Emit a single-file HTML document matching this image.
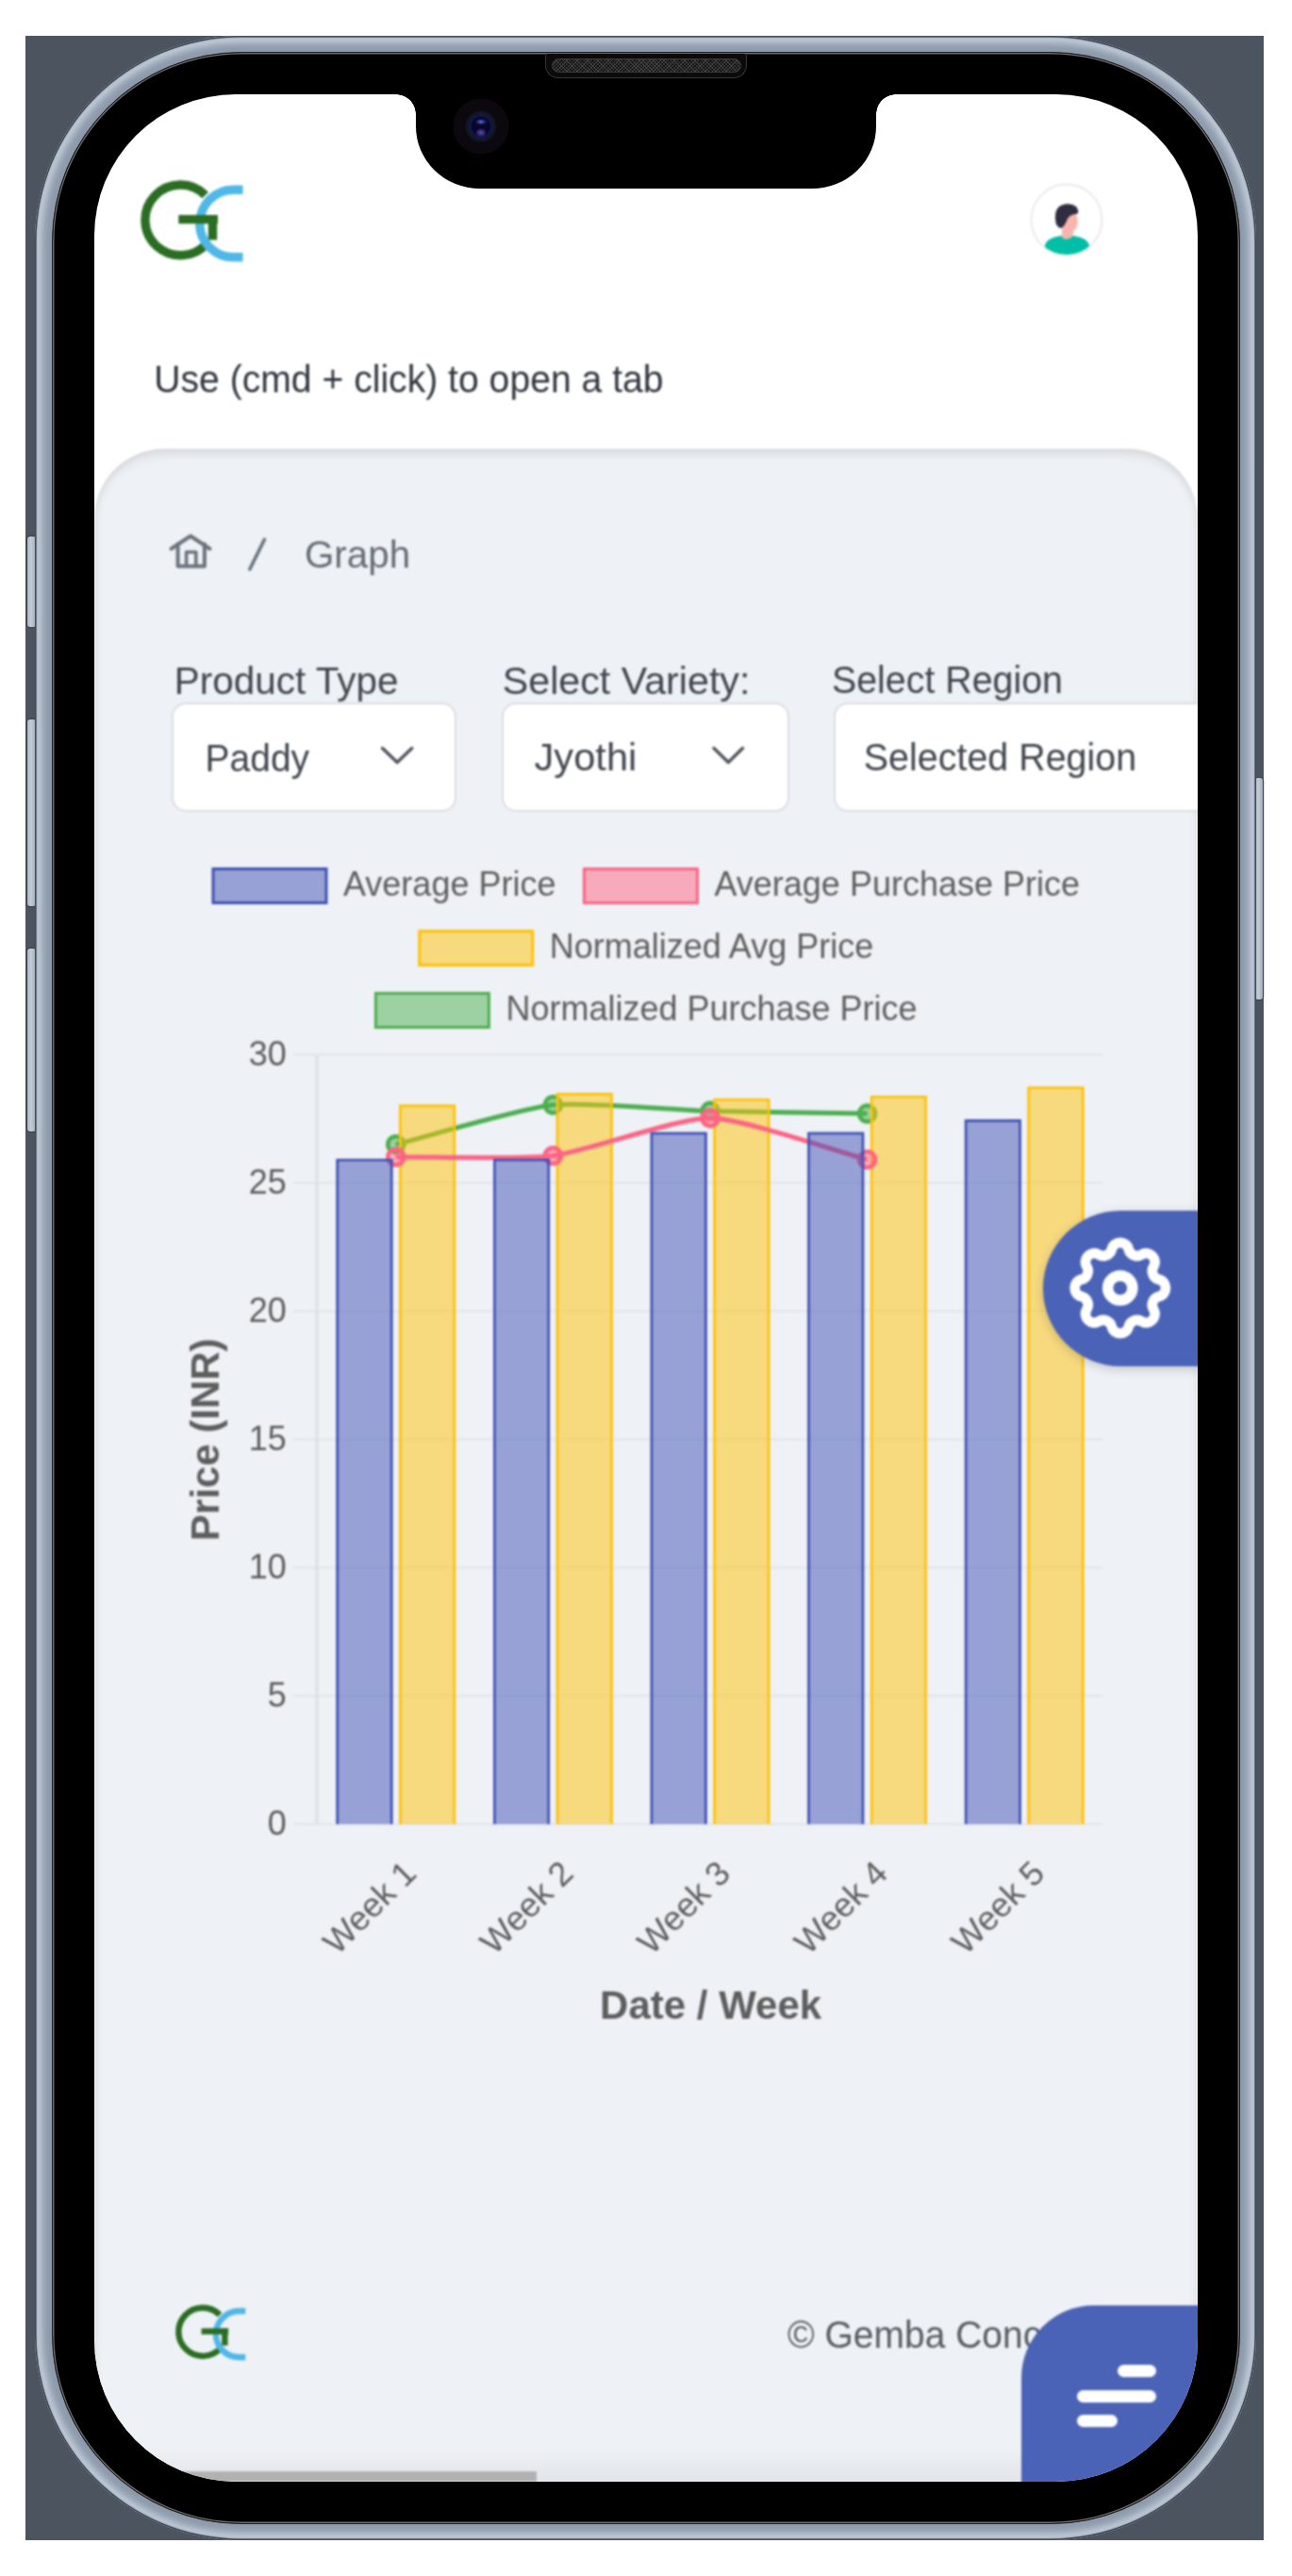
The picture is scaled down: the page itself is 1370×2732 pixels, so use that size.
<!DOCTYPE html>
<html><head><meta charset="utf-8"><title>Graph</title>
<style>
*{margin:0;padding:0;box-sizing:border-box}
html,body{width:1370px;height:2732px;background:#fff;overflow:hidden}
body{position:relative;font-family:"Liberation Sans",sans-serif}
.abs{position:absolute}
#slate{left:27px;top:38px;width:1313px;height:2656px;background:#4c5460}
.btn{background:linear-gradient(90deg,#aab5c2,#c2ccd7 40%,#a3aebb);border-radius:3px;box-shadow:0 0 0 1.2px #3d4550}
#rim{left:37.3px;top:37.9px;width:1295.2px;height:2656.1px;border-radius:218px;background:#8d9aab;
  box-shadow:inset 0 0 0 1.5px #444c58, inset 0 0 2px 2px rgba(70,80,92,.5), inset 0 0 8px 7px rgba(212,222,234,.85)}
#bez{left:55px;top:54.8px;width:1259.8px;height:2622.7px;border-radius:201px;background:#000;border:1.7px solid #1b2026;box-shadow:inset 0 0 0 1.5px #6d6a66}
#screen{left:100px;top:100px;width:1170px;height:2532px;border-radius:150px;overflow:hidden;background:#fff}
#card{left:0;top:376px;width:1170px;height:2300px;border-radius:74px 74px 0 0;background:#eef1f5;
  box-shadow:inset 0 11px 13px -7px rgba(0,0,0,.12), inset 8px 0 11px -7px rgba(0,0,0,.07), inset -8px 0 11px -7px rgba(0,0,0,.07)}
.sel{background:#fff;border:2px solid #d9dde3;border-radius:15px}
#svg{left:-100px;top:-100px;width:1370px;height:2732px}
#gearfab{left:1005.5px;top:1183.5px;width:300px;height:165.5px;border-radius:83px;background:#4b63b7;box-shadow:0 3px 12px rgba(0,0,0,.18)}
#menufab{left:983px;top:2345px;width:300px;height:300px;border-radius:77px 0 0 0;background:#4b63b7}
#notch{left:341px;top:0;width:488px;height:100px;background:#000;border-radius:0 0 68px 68px / 0 0 66px 66px}
.fl{top:0;width:21px;height:21px}
#spk{left:578px;top:56.5px;width:214px;height:26.5px;border-radius:3px 3px 14px 14px;background:#0b0b0b;border:1.4px solid #363636;border-top:none}
#mesh{left:584.5px;top:62px;width:201px;height:15px;border-radius:8px;border:1px solid #3a3a3a;
  background:repeating-linear-gradient(45deg,rgba(80,80,80,.55) 0 1px,transparent 1px 2.6px),repeating-linear-gradient(-45deg,rgba(80,80,80,.55) 0 1px,transparent 1px 2.6px),#141414}
#cam{left:480px;top:104px;width:60px;height:60px;border-radius:50%;background:radial-gradient(circle at 50% 50%,#07070f 0,#07070f 12px,#161a2a 12.5px,#10131e 16px,#0c0810 17px,#0c080e 29px,#000 30px)}
#lens{left:498px;top:122px;width:24px;height:24px;border-radius:50%;
  background:radial-gradient(ellipse 7px 4px at 50% 30%,#5a68c8,rgba(30,30,110,.5) 70%,transparent 100%),radial-gradient(ellipse 6px 5px at 50% 78%,#2f6a62,#3a1a80 60%,transparent 100%),radial-gradient(circle,#07072a 55%,#1a2a8a 80%,#0b0b20 100%)}
#scroll{left:0;top:2521px;width:468.5px;height:10.5px;background:#b1b1b1}
#botfade{left:0;top:2495px;width:1170px;height:37px;background:linear-gradient(180deg,rgba(0,0,0,0),rgba(0,0,0,.05))}
#content{left:0;top:0;width:1170px;height:2532px;filter:blur(0.8px)}
.mb{height:13px;border-radius:6.5px;background:#fff}
</style></head><body>
<div class="abs" id="slate"></div>
<div class="abs btn" style="left:28.5px;top:569px;width:9.5px;height:96px"></div>
<div class="abs btn" style="left:28.5px;top:763px;width:9.5px;height:198px"></div>
<div class="abs btn" style="left:28.5px;top:1006px;width:9.5px;height:194px"></div>
<div class="abs btn" style="left:1331px;top:825px;width:8px;height:235px"></div>
<div class="abs" id="rim"></div>
<div class="abs" id="bez"></div>
<div class="abs" id="screen">
 <div class="abs" id="content">
  <div class="abs" id="card"></div>
  <div class="abs sel" style="left:82px;top:645px;width:302px;height:116px"></div>
  <div class="abs sel" style="left:431.5px;top:645px;width:305px;height:116px"></div>
  <div class="abs sel" style="left:784px;top:645px;width:500px;height:116px"></div>
  <div class="abs" id="botfade"></div>
  <svg class="abs" id="svg" viewBox="0 0 1370 2732" font-family="Liberation Sans, sans-serif">
<g transform="translate(0,0) scale(1)"><path d="M217.71,206.99 A37.35,37.35 0 1 0 219.91,257.41" fill="none" stroke="#2b6e23" stroke-width="9.4"/><path d="M225.5,228 V254.5" fill="none" stroke="#2b6e23" stroke-width="9.4"/><path d="M257.5,201.20 H247.60 A35.8,35.8 0 0 0 247.60,272.80 H257.5" fill="none" stroke="#4fb8e9" stroke-width="9.4"/><path d="M189.3,232.6 H231" fill="none" stroke="#2b6e23" stroke-width="9.4"/></g>
<circle cx="1131" cy="233" r="37.5" fill="#fff" stroke="#e3e3e6" stroke-width="1.5"/>
<clipPath id="avc"><circle cx="1131" cy="233" r="37"/></clipPath>
<g clip-path="url(#avc)"><ellipse cx="1131.5" cy="261" rx="23.5" ry="11.5" fill="#00bfa6"/><path d="M1126,238 L1126,252 Q1131,256 1137,251 L1140,238 Z" fill="#f9b5ac"/><ellipse cx="1135" cy="235" rx="8" ry="10.5" fill="#f9b5ac"/><path d="M1119.5,236 Q1117,221 1126,217.5 Q1135,214.5 1141,219 Q1145,224 1142,227 Q1135,227 1132,232 Q1129,240 1125,242 Q1120.5,241 1119.5,236 Z" fill="#2f2e41"/></g>
<text x="163.20" y="416.30" font-size="41" font-weight="normal" fill="#30353e" textLength="540.36" lengthAdjust="spacingAndGlyphs" >Use (cmd + click) to open a tab</text>
<g fill="none" stroke="#6b747d" stroke-width="4" stroke-linejoin="round" stroke-linecap="round"><path d="M181.5,582 L202,568.5 L222.5,582"/><path d="M188.6,577 V600.5 H216.9 V577"/><path d="M197.6,600.5 V585.5 H207.8 V600.5" stroke-width="3.6"/></g>
<line x1="264.8" y1="603.7" x2="280.4" y2="572.2" stroke="#6b747d" stroke-width="3.6" stroke-linecap="round"/>
<text x="323.00" y="602.00" font-size="41" font-weight="normal" fill="#646c74" textLength="112.05" lengthAdjust="spacingAndGlyphs" >Graph</text>
<text x="184.80" y="735.50" font-size="41" font-weight="normal" fill="#40464e" textLength="237.63" lengthAdjust="spacingAndGlyphs" >Product Type</text>
<text x="532.80" y="735.50" font-size="41" font-weight="normal" fill="#40464e" textLength="262.59" lengthAdjust="spacingAndGlyphs" >Select Variety:</text>
<text x="882.00" y="735.30" font-size="41" font-weight="normal" fill="#40464e" textLength="244.97" lengthAdjust="spacingAndGlyphs" >Select Region</text>
<text x="217.60" y="817.50" font-size="41" font-weight="normal" fill="#40464e" textLength="110.45" lengthAdjust="spacingAndGlyphs" >Paddy</text>
<text x="566.50" y="817.00" font-size="41" font-weight="normal" fill="#40464e" textLength="108.80" lengthAdjust="spacingAndGlyphs" >Jyothi</text>
<text x="915.80" y="817.30" font-size="41" font-weight="normal" fill="#40464e" textLength="289.37" lengthAdjust="spacingAndGlyphs" >Selected Region</text>
<path d="M405.5,793.5 L421.15,808.5 L436.8,793.5" fill="none" stroke="#4f555d" stroke-width="3.4" stroke-linecap="round" stroke-linejoin="round"/>
<path d="M757,793.5 L772.25,808.5 L787.5,793.5" fill="none" stroke="#4f555d" stroke-width="3.4" stroke-linecap="round" stroke-linejoin="round"/>
<line x1="311" y1="1934.50" x2="1169.5" y2="1934.50" stroke="#e3e6ea" stroke-width="2.5"/>
<text x="303.80" y="1945.80" font-size="36" font-weight="normal" fill="#5e5e5e" text-anchor="end" >0</text>
<line x1="311" y1="1798.50" x2="1169.5" y2="1798.50" stroke="#e3e6ea" stroke-width="2.5"/>
<text x="303.80" y="1809.80" font-size="36" font-weight="normal" fill="#5e5e5e" text-anchor="end" >5</text>
<line x1="311" y1="1662.50" x2="1169.5" y2="1662.50" stroke="#e3e6ea" stroke-width="2.5"/>
<text x="303.80" y="1673.80" font-size="36" font-weight="normal" fill="#5e5e5e" text-anchor="end" >10</text>
<line x1="311" y1="1526.50" x2="1169.5" y2="1526.50" stroke="#e3e6ea" stroke-width="2.5"/>
<text x="303.80" y="1537.80" font-size="36" font-weight="normal" fill="#5e5e5e" text-anchor="end" >15</text>
<line x1="311" y1="1390.50" x2="1169.5" y2="1390.50" stroke="#e3e6ea" stroke-width="2.5"/>
<text x="303.80" y="1401.80" font-size="36" font-weight="normal" fill="#5e5e5e" text-anchor="end" >20</text>
<line x1="311" y1="1254.50" x2="1169.5" y2="1254.50" stroke="#e3e6ea" stroke-width="2.5"/>
<text x="303.80" y="1265.80" font-size="36" font-weight="normal" fill="#5e5e5e" text-anchor="end" >25</text>
<line x1="311" y1="1118.50" x2="1169.5" y2="1118.50" stroke="#e3e6ea" stroke-width="2.5"/>
<text x="303.80" y="1129.80" font-size="36" font-weight="normal" fill="#5e5e5e" text-anchor="end" >30</text>
<line x1="336.0" y1="1118.50" x2="336.0" y2="1936.00" stroke="#e0e3e8" stroke-width="4"/>
<path d="M419.80,1213.70 C453.12,1205.32 552.58,1175.40 586.40,1171.81 C619.22,1168.33 719.67,1177.41 753.00,1178.34 C786.31,1179.26 886.28,1180.52 919.60,1181.06" fill="none" stroke="rgb(76,175,80)" stroke-width="5"/><circle cx="419.80" cy="1213.70" r="8.5" fill="rgba(76,175,80,0.5)" stroke="rgb(76,175,80)" stroke-width="4.5"/><circle cx="586.40" cy="1171.81" r="8.5" fill="rgba(76,175,80,0.5)" stroke="rgb(76,175,80)" stroke-width="4.5"/><circle cx="753.00" cy="1178.34" r="8.5" fill="rgba(76,175,80,0.5)" stroke="rgb(76,175,80)" stroke-width="4.5"/><circle cx="919.60" cy="1181.06" r="8.5" fill="rgba(76,175,80,0.5)" stroke="rgb(76,175,80)" stroke-width="4.5"/>
<rect x="423.13" y="1171.54" width="59.98" height="762.96" fill="rgba(255,193,7,0.5)"/><path d="M424.43,1934.50 V1172.84 H481.81 V1934.50" fill="none" stroke="rgb(255,193,7)" stroke-width="2.6"/>
<rect x="589.73" y="1159.03" width="59.98" height="775.47" fill="rgba(255,193,7,0.5)"/><path d="M591.03,1934.50 V1160.33 H648.41 V1934.50" fill="none" stroke="rgb(255,193,7)" stroke-width="2.6"/>
<rect x="756.33" y="1165.01" width="59.98" height="769.49" fill="rgba(255,193,7,0.5)"/><path d="M757.63,1934.50 V1166.31 H815.01 V1934.50" fill="none" stroke="rgb(255,193,7)" stroke-width="2.6"/>
<rect x="922.93" y="1162.02" width="59.98" height="772.48" fill="rgba(255,193,7,0.5)"/><path d="M924.23,1934.50 V1163.32 H981.61 V1934.50" fill="none" stroke="rgb(255,193,7)" stroke-width="2.6"/>
<rect x="1089.53" y="1152.50" width="59.98" height="782.00" fill="rgba(255,193,7,0.5)"/><path d="M1090.83,1934.50 V1153.80 H1148.21 V1934.50" fill="none" stroke="rgb(255,193,7)" stroke-width="2.6"/>
<path d="M419.80,1227.03 C453.12,1226.76 553.55,1229.74 586.40,1225.67 C620.19,1221.48 719.78,1185.28 753.00,1185.68 C786.42,1186.09 886.28,1220.94 919.60,1229.75" fill="none" stroke="rgb(255,99,132)" stroke-width="5"/><circle cx="419.80" cy="1227.03" r="8.5" fill="rgba(255,99,132,0.5)" stroke="rgb(255,99,132)" stroke-width="4.5"/><circle cx="586.40" cy="1225.67" r="8.5" fill="rgba(255,99,132,0.5)" stroke="rgb(255,99,132)" stroke-width="4.5"/><circle cx="753.00" cy="1185.68" r="8.5" fill="rgba(255,99,132,0.5)" stroke="rgb(255,99,132)" stroke-width="4.5"/><circle cx="919.60" cy="1229.75" r="8.5" fill="rgba(255,99,132,0.5)" stroke="rgb(255,99,132)" stroke-width="4.5"/>
<rect x="356.49" y="1228.93" width="59.98" height="705.57" fill="rgba(63,81,181,0.5)"/><path d="M357.79,1934.50 V1230.23 H415.17 V1934.50" fill="none" stroke="rgb(63,81,181)" stroke-width="2.6"/>
<rect x="523.09" y="1228.93" width="59.98" height="705.57" fill="rgba(63,81,181,0.5)"/><path d="M524.39,1934.50 V1230.23 H581.77 V1934.50" fill="none" stroke="rgb(63,81,181)" stroke-width="2.6"/>
<rect x="689.69" y="1200.64" width="59.98" height="733.86" fill="rgba(63,81,181,0.5)"/><path d="M690.99,1934.50 V1201.94 H748.37 V1934.50" fill="none" stroke="rgb(63,81,181)" stroke-width="2.6"/>
<rect x="856.29" y="1200.64" width="59.98" height="733.86" fill="rgba(63,81,181,0.5)"/><path d="M857.59,1934.50 V1201.94 H914.97 V1934.50" fill="none" stroke="rgb(63,81,181)" stroke-width="2.6"/>
<rect x="1022.89" y="1187.32" width="59.98" height="747.18" fill="rgba(63,81,181,0.5)"/><path d="M1024.19,1934.50 V1188.62 H1081.57 V1934.50" fill="none" stroke="rgb(63,81,181)" stroke-width="2.6"/>
<text transform="translate(422.10,1967.50) rotate(-45)" x="0" y="30" font-size="36" fill="#5e5e5e" text-anchor="end">Week 1</text>
<text transform="translate(588.70,1967.50) rotate(-45)" x="0" y="30" font-size="36" fill="#5e5e5e" text-anchor="end">Week 2</text>
<text transform="translate(755.30,1967.50) rotate(-45)" x="0" y="30" font-size="36" fill="#5e5e5e" text-anchor="end">Week 3</text>
<text transform="translate(921.90,1967.50) rotate(-45)" x="0" y="30" font-size="36" fill="#5e5e5e" text-anchor="end">Week 4</text>
<text transform="translate(1088.50,1967.50) rotate(-45)" x="0" y="30" font-size="36" fill="#5e5e5e" text-anchor="end">Week 5</text>
<text x="753.60" y="2141.00" font-size="42" font-weight="bold" fill="#5e5e5e" text-anchor="middle" >Date / Week</text>
<text transform="translate(231.5,1526.8) rotate(-90)" x="0" y="0" font-size="42" font-weight="bold" fill="#5e5e5e" text-anchor="middle">Price (INR)</text>
<rect x="225.99" y="921.50" width="120" height="36" fill="rgba(63,81,181,0.5)" stroke="rgb(63,81,181)" stroke-width="3"/>
<text x="363.99" y="950.00" font-size="36" font-weight="normal" fill="#5e5e5e" text-anchor="start" >Average Price</text>
<rect x="619.45" y="921.50" width="120" height="36" fill="rgba(255,99,132,0.5)" stroke="rgb(255,99,132)" stroke-width="3"/>
<text x="757.45" y="950.00" font-size="36" font-weight="normal" fill="#5e5e5e" text-anchor="start" >Average Purchase Price</text>
<rect x="444.76" y="987.50" width="120" height="36" fill="rgba(255,193,7,0.5)" stroke="rgb(255,193,7)" stroke-width="3"/>
<text x="582.76" y="1016.00" font-size="36" font-weight="normal" fill="#5e5e5e" text-anchor="start" >Normalized Avg Price</text>
<rect x="398.41" y="1053.50" width="120" height="36" fill="rgba(76,175,80,0.5)" stroke="rgb(76,175,80)" stroke-width="3"/>
<text x="536.41" y="1082.00" font-size="36" font-weight="normal" fill="#5e5e5e" text-anchor="start" >Normalized Purchase Price</text>
<g transform="translate(83.9,2313.2) scale(0.685)"><path d="M217.71,206.99 A37.35,37.35 0 1 0 219.91,257.41" fill="none" stroke="#2b6e23" stroke-width="9.4"/><path d="M225.5,228 V254.5" fill="none" stroke="#2b6e23" stroke-width="9.4"/><path d="M257.5,201.20 H247.60 A35.8,35.8 0 0 0 247.60,272.80 H257.5" fill="none" stroke="#4fb8e9" stroke-width="9.4"/><path d="M189.3,232.6 H231" fill="none" stroke="#2b6e23" stroke-width="9.4"/></g>
<text x="835.00" y="2490.00" font-size="41" font-weight="normal" fill="#565d64" textLength="342.80" lengthAdjust="spacingAndGlyphs">© Gemba Concepts</text>
  </svg>
  <div class="abs" id="gearfab"></div>
  <svg class="abs" style="left:-100px;top:-100px;width:1370px;height:2732px" viewBox="0 0 1370 2732"><g transform="translate(1123.60,1301.80) scale(5.35)" fill="none" stroke="#fff" stroke-width="2" stroke-linecap="round" stroke-linejoin="round"><path d="M10.325 4.317c.426-1.756 2.924-1.756 3.35 0a1.724 1.724 0 002.573 1.066c1.543-.94 3.31.826 2.37 2.37a1.724 1.724 0 001.065 2.572c1.756.426 1.756 2.924 0 3.35a1.724 1.724 0 00-1.066 2.573c.94 1.543-.826 3.31-2.37 2.37a1.724 1.724 0 00-2.572 1.065c-.426 1.756-2.924 1.756-3.35 0a1.724 1.724 0 00-2.573-1.066c-1.543.94-3.31-.826-2.37-2.37a1.724 1.724 0 00-1.065-2.572c-1.756-.426-1.756-2.924 0-3.35a1.724 1.724 0 001.066-2.573c-.94-1.543.826-3.31 2.37-2.37.996.608 2.296.07 2.572-1.065z"/><circle cx="12" cy="12" r="2.45" stroke-width="2.15"/></g></svg>
  <div class="abs" id="menufab"></div>
  <div class="abs mb" style="left:1085.3px;top:2408.2px;width:41px"></div>
  <div class="abs mb" style="left:1042px;top:2435.3px;width:84.3px"></div>
  <div class="abs mb" style="left:1042px;top:2461.3px;width:43.3px"></div>
  <div class="abs" id="scroll"></div>
 </div>
  <div class="abs" id="notch"></div>
  <div class="abs fl" style="left:320px;background:radial-gradient(circle at 0 100%,transparent 20.5px,#000 21px)"></div>
  <div class="abs fl" style="left:829px;background:radial-gradient(circle at 100% 100%,transparent 20.5px,#000 21px)"></div>
</div>
<div class="abs" id="spk"></div>
<div class="abs" id="mesh"></div>
<div class="abs" id="cam"></div>
<div class="abs" id="lens"></div>
</body></html>
